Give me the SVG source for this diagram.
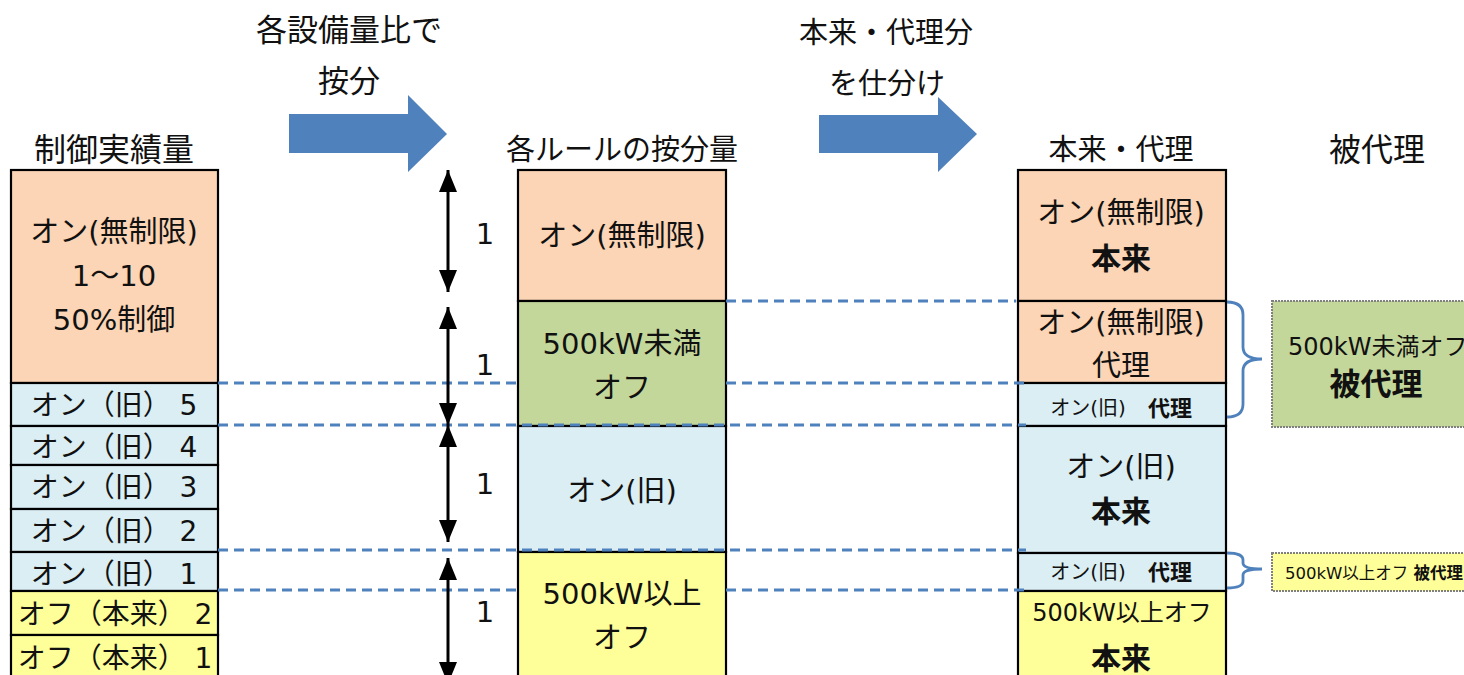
<svg xmlns="http://www.w3.org/2000/svg" width="1464" height="675" viewBox="0 0 1464 675">
<defs>
<style>
text{font-family:"DejaVu Sans","Noto Sans CJK JP",sans-serif;fill:#111;dominant-baseline:central;text-anchor:middle}
.h{font-size:29px}
.hl{font-size:31px}
.t{font-size:29px}
.r{font-size:28px}
.s{font-size:20px}
.b{font-weight:bold}
.bb{font-size:30px;font-weight:bold}
.box{stroke:#000;stroke-width:2.2}
.or{fill:#FBD5B5}.gr{fill:#C4D79B}.bl{fill:#DAEEF3}.ye{fill:#FFFF99}
.dash{stroke:#4F81BD;stroke-width:2.8;stroke-dasharray:10 6;fill:none}
.brace{stroke:#4F81BD;stroke-width:2.8;fill:none}
.dbl{stroke:#000;stroke-width:3;fill:none;marker-start:url(#ah);marker-end:url(#ah)}
.side{stroke:#808080;stroke-width:2;stroke-dasharray:2 1}
</style>
<marker id="ah" markerUnits="userSpaceOnUse" markerWidth="22" markerHeight="18" refX="22" refY="9" viewBox="0 0 22 18" orient="auto-start-reverse">
<path d="M0,0 L22,9 L0,18 z" fill="#000"/>
</marker>
</defs>
<rect width="1464" height="675" fill="#fff"/>

<g id="titles">
<text class="hl" x="349" y="30">各設備量比で</text>
<text class="hl" x="349" y="81">按分</text>
<text class="h" x="886" y="33">本来・代理分</text>
<text class="h" x="887" y="84">を仕分け</text>
<text class="h" x="114" y="150" style="font-size:32px">制御実績量</text>
<text class="h" x="622" y="150">各ルールの按分量</text>
<text class="h" x="1121" y="150">本来・代理</text>
<text class="h" x="1377" y="150" style="font-size:32px">被代理</text>
</g>

<g id="big-arrows">
<path d="M289,114 L408,114 L408,95 L447,134 L408,172 L408,153 L289,153 z" fill="#4F81BD"/>
<path d="M819,115 L938,115 L938,97 L977,134 L938,172 L938,153 L819,153 z" fill="#4F81BD"/>
</g>

<g id="left-column">
<g id="l-on-unlim"><rect class="box or" x="11" y="170" width="207" height="213"/>
<text class="t" x="114" y="232">オン(無制限)</text><text class="t" x="114" y="276">1～10</text><text class="t" x="114" y="320">50%制御</text></g>
<g id="l-old5"><rect class="box bl" x="11" y="383" width="207" height="43"/><text class="r" x="114" y="405">オン（旧） 5</text></g>
<g id="l-old4"><rect class="box bl" x="11" y="426" width="207" height="39"/><text class="r" x="114" y="447">オン（旧） 4</text></g>
<g id="l-old3"><rect class="box bl" x="11" y="465" width="207" height="44"/><text class="r" x="114" y="487">オン（旧） 3</text></g>
<g id="l-old2"><rect class="box bl" x="11" y="509" width="207" height="43"/><text class="r" x="114" y="531">オン（旧） 2</text></g>
<g id="l-old1"><rect class="box bl" x="11" y="552" width="207" height="39"/><text class="r" x="114" y="574">オン（旧） 1</text></g>
<g id="l-off2"><rect class="box ye" x="11" y="591" width="207" height="44"/><text class="r" x="115" y="614">オフ（本来） 2</text></g>
<g id="l-off1"><rect class="box ye" x="11" y="635" width="207" height="60"/><text class="r" x="115" y="658">オフ（本来） 1</text></g>
</g>

<g id="middle-column">
<g id="m-on-unlim"><rect class="box or" x="518" y="170" width="208" height="131"/><text class="t" x="622" y="236">オン(無制限)</text></g>
<g id="m-under500"><rect class="box gr" x="518" y="301" width="208" height="125"/><text class="t" x="622" y="344">500kW未満</text><text class="t" x="622" y="388">オフ</text></g>
<g id="m-old"><rect class="box bl" x="518" y="426" width="208" height="126"/><text class="t" x="622" y="491">オン(旧)</text></g>
<g id="m-over500"><rect class="box ye" x="518" y="552" width="208" height="143"/><text class="t" x="622" y="594">500kW以上</text><text class="t" x="622" y="638">オフ</text></g>
</g>

<g id="right-column">
<g id="r-unlim-own"><rect class="box or" x="1018" y="170" width="208" height="131"/><text class="t" x="1121" y="213">オン(無制限)</text><text class="bb" x="1121" y="258">本来</text></g>
<g id="r-unlim-proxy"><rect class="box or" x="1018" y="301" width="208" height="82"/><text class="t" x="1121" y="323">オン(無制限)</text><text class="t" x="1121" y="366">代理</text></g>
<g id="r-old-proxy1"><rect class="box bl" x="1018" y="383" width="208" height="43"/><text class="s" x="1088" y="408">オン(旧)</text><text class="s b" x="1170" y="408" style="font-size:22px">代理</text></g>
<g id="r-old-own"><rect class="box bl" x="1018" y="426" width="208" height="127"/><text class="t" x="1121" y="467">オン(旧)</text><text class="bb" x="1121" y="511">本来</text></g>
<g id="r-old-proxy2"><rect class="box bl" x="1018" y="553" width="208" height="38"/><text class="s" x="1088" y="572">オン(旧)</text><text class="s b" x="1170" y="572" style="font-size:22px">代理</text></g>
<g id="r-over500-own"><rect class="box ye" x="1018" y="591" width="208" height="104"/><text class="t" x="1122" y="613" style="font-size:24px">500kW以上オフ</text><text class="bb" x="1121" y="658">本来</text></g>
</g>

<g id="proxied">
<g id="p-under500"><rect class="side gr" x="1272" y="301" width="200" height="126"/><text class="t" x="1288" y="347" style="font-size:24px;text-anchor:start">500kW未満オフ</text><text class="b" x="1376" y="384" style="font-size:31px">被代理</text></g>
<g id="p-over500"><rect class="side ye" x="1272" y="553" width="200" height="38"/><text x="1285" y="573" style="font-size:16.5px;text-anchor:start">500kW以上オフ  <tspan class="b">被代理</tspan></text></g>
</g>

<g id="connectors">
<line class="dash" x1="726" y1="301" x2="1016" y2="301"/>
<line class="dash" x1="218" y1="383" x2="518" y2="383"/>
<line class="dash" x1="726" y1="383" x2="1026" y2="383"/>
<line class="dash" x1="218" y1="425" x2="1026" y2="425"/>
<line class="dash" x1="218" y1="550" x2="1026" y2="550"/>
<line class="dash" x1="218" y1="590" x2="518" y2="590"/>
<line class="dash" x1="726" y1="590" x2="1026" y2="590"/>
<path class="brace" d="M1227,302 Q1243,302 1243,315 L1243,347 Q1243,359 1262,359 Q1243,359 1243,371 L1243,404 Q1243,417 1227,417"/>
<path class="brace" d="M1227,553 Q1243,553 1243,560 L1243,563 Q1243,569 1262,569 Q1243,569 1243,575 L1243,581 Q1243,588 1227,588"/>
<line class="dbl" x1="448" y1="170" x2="448" y2="292"/>
<line class="dbl" x1="448" y1="307" x2="448" y2="425"/>
<line class="dbl" x1="448" y1="425" x2="448" y2="542"/>
<line class="dbl" x1="448" y1="558" x2="448" y2="684"/>
</g>

<g id="ratio-labels">
<text class="t" x="485" y="234">1</text>
<text class="t" x="485" y="365">1</text>
<text class="t" x="485" y="484">1</text>
<text class="t" x="485" y="612">1</text>
</g>
</svg>
